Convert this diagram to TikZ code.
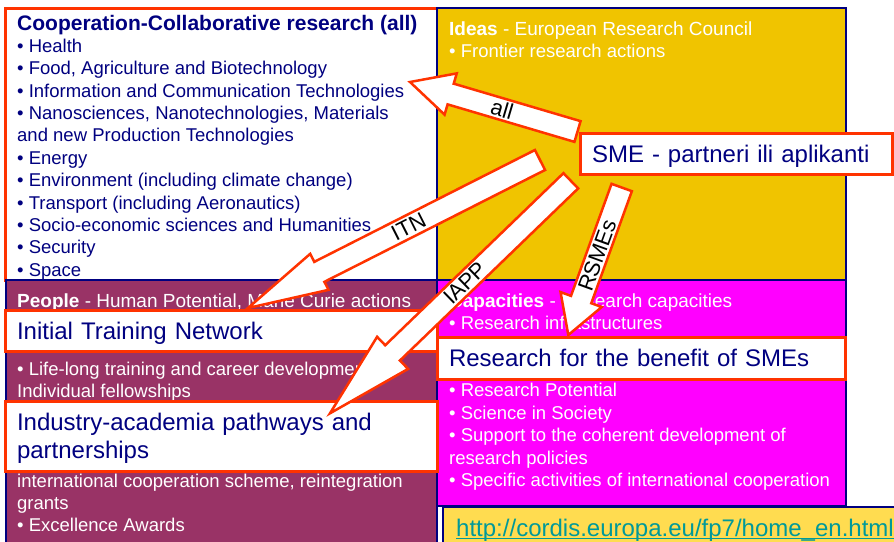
\documentclass[tikz,border=0pt]{standalone}
\usepackage{fontspec}
\setmainfont{Liberation Sans}
\usetikzlibrary{calc}
\definecolor{cnavy}{RGB}{0,0,128}
\definecolor{cred}{RGB}{255,51,0}
\definecolor{cgold}{RGB}{240,196,0}
\definecolor{cplum}{RGB}{153,51,102}
\definecolor{cmag}{RGB}{255,0,255}
\definecolor{curlbg}{RGB}{255,220,80}
\definecolor{curl}{RGB}{0,153,153}
\newcommand\blockarr[5]{%
  \coordinate (#1-h) at ($(#2)!#5pt!(#1)$);
  \draw[barrow] ($(#1)!#3pt!90:(#2)$) -- ($(#1-h)!#3pt!90:(#2)$) -- ($(#1-h)!#4pt!90:(#2)$)
    -- (#2) -- ($(#1-h)!#4pt!-90:(#2)$) -- ($(#1-h)!#3pt!-90:(#2)$) -- ($(#1)!#3pt!-90:(#2)$) -- cycle;
}
\tikzset{
  quad/.style={draw=cnavy, line width=2.5pt},
  wbox/.style={draw=cred, line width=3pt, fill=white, rectangle, inner ysep=0pt, inner xsep=12pt,
    outer sep=0pt, anchor=north west, align=left, text=cnavy, font=\fontsize{24}{27.5}\selectfont},
  body/.style={anchor=base west, inner sep=0pt, font=\fontsize{18.5}{22}\selectfont},
  headln/.style={anchor=base west, inner sep=0pt, font=\fontsize{19}{22}\selectfont},
  barrow/.style={draw=cred, fill=white, line width=2.5pt, line join=miter},
  alabel/.style={sloped, font=\fontsize{22}{24}\selectfont, inner sep=0pt, text=black},
}
\begin{document}
\begin{tikzpicture}[x=1pt,y=-1pt]
\useasboundingbox (0,0) rectangle (894,541);
% quadrants
\draw[draw=cred, line width=3pt, fill=white] (5,8) rectangle (437,280);
\draw[quad, fill=cgold] (437,8) rectangle (846,280);
\draw[quad, fill=cplum] (6,280) rectangle (437,560);
\draw[quad, fill=cmag] (437,280) rectangle (846,506);
\draw[quad, fill=curlbg] (443,507) rectangle (910,560);
% Cooperation
\node[anchor=base west, inner sep=0pt, text=cnavy, font=\fontsize{21}{24}\selectfont\bfseries] (coopt) at (17,30.5) {Cooperation-Collaborative research (all)};
\foreach \t [count=\i from 0] in {{• Health},{• Food, Agriculture and Biotechnology},{• Information and Communication Technologies},{• Nanosciences, Nanotechnologies, Materials},{and new Production Technologies},{• Energy},{• Environment (including climate change)},{• Transport (including Aeronautics)},{• Socio-economic sciences and Humanities},{• Security},{• Space}}
  \node[body, text=cnavy] (coop\i) at (17,{52.3+22.4*\i}) {\t};
% Ideas
\node[headln, text=white] (ideas) at (449,35) {\textbf{Ideas} - European Research Council};
\node[body, text=white] (ideas1) at (449,57.3) {• Frontier research actions};
% People
\node[headln, text=white] (people) at (17,307) {\textbf{People} - Human Potential, Marie Curie actions};
\node[body, text=white] (peo1) at (17,375) {• Life-long training and career development};
\node[body, text=white] (peo2) at (17,397) {Individual fellowships};
\node[body, text=white] (peo3) at (17,487.7) {international cooperation scheme, reintegration};
\node[body, text=white] (peo4) at (17,509.5) {grants};
\node[body, text=white] (peo5) at (17,531.3) {• Excellence Awards};
% Capacities
\node[headln, text=white] (cap) at (449,307.5) {\textbf{Capacities} - Research capacities};
\node[body, text=white] (cap1) at (449,329.5) {• Research infrastructures};
\foreach \t [count=\i from 0] in {{• Research Potential},{• Science in Society},{• Support to the coherent development of},{research policies},{• Specific activities of international cooperation}}
  \node[body, text=white] (capb\i) at (449,{396.7+22.45*\i}) {\t};
% URL
\node[anchor=base west, inner sep=0pt, text=curl, font=\fontsize{24}{26}\selectfont] (url) at (456,536) {http://cordis.europa.eu/fp7/home\_en.html};
\draw[curl, line width=1.5pt] ([yshift=-2.6pt]url.base west) -- ([yshift=-2.6pt]url.base east);
% white boxes
\node[wbox, minimum width=432pt, minimum height=41.5pt, text width=408pt, text height=17.2pt, text depth=0pt] (itn) at (5,310) {Initial Training Network};
\node[wbox, minimum width=432pt, minimum height=70pt, text width=408pt, text height=17.2pt, text depth=27.5pt] (iapp) at (5,401) {Industry-academia pathways and\\partnerships};
\node[wbox, minimum width=408pt, minimum height=41.3pt, text width=384pt, text height=17.2pt, text depth=0pt] (rsme) at (437,337.7) {Research for the benefit of SMEs};
\node[wbox, minimum width=312pt, minimum height=41pt, text width=288pt, text height=17.2pt, text depth=0pt] (sme) at (580,133.3) {SME - partneri ili aplikanti};
% arrows
\coordinate (allT) at (577.5,131.5); \coordinate (allH) at (410,82);
\coordinate (itnT) at (540,160); \coordinate (itnH) at (248,308);
\coordinate (iappT) at (570.8,180.8); \coordinate (iappH) at (330,413.3);
\coordinate (rsT) at (621.7,187.5); \coordinate (rsH) at (568.3,335);
\blockarr{allT}{allH}{10.8}{21.5}{42.4}
\blockarr{itnT}{itnH}{11.2}{20.2}{80}
\blockarr{iappT}{iappH}{10.6}{22.3}{87}
\blockarr{rsT}{rsH}{10.8}{21.9}{37.7}
\path (allT) -- (allH) node[alabel, pos=0.45] (lall) {all};
\path (itnT) -- (itnH) node[alabel, pos=0.45] (litn) {ITN};
\path (iappT) -- (iappH) node[alabel, pos=0.44] (liapp) {IAPP};
\path (rsT) -- (rsH) node[alabel, pos=0.46] (lrs) {RSMEs};
\end{tikzpicture}
\end{document}
